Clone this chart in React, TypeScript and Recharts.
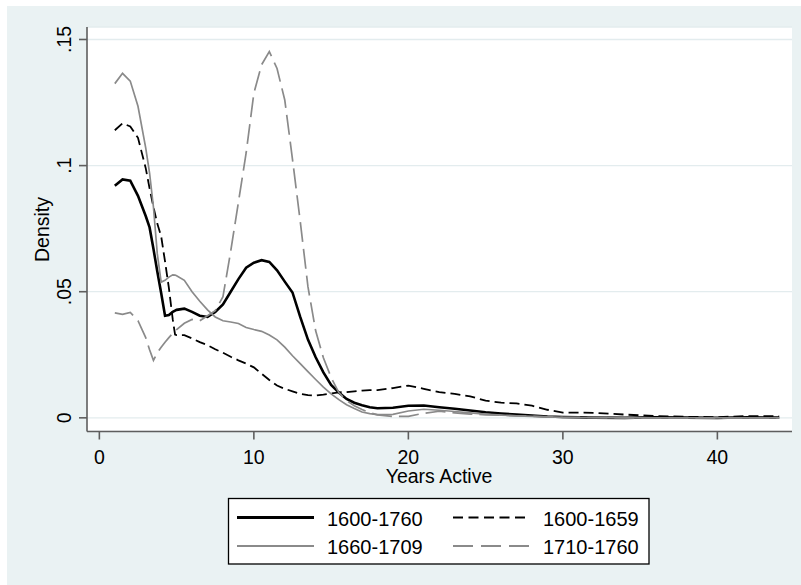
import React from 'react';
import { LineChart, Line, XAxis, YAxis, CartesianGrid } from 'recharts';

const years = [1, 1.5, 2, 2.5, 3, 3.25, 3.5, 3.75, 4, 4.25, 4.5, 4.75, 4.9, 5, 5.5, 6, 6.5, 7, 7.5, 8, 8.5, 9, 9.5, 10, 10.5, 11, 11.5, 12, 12.5, 13, 13.5, 14, 14.5, 15, 15.5, 16, 16.5, 17, 17.5, 18, 19, 20, 21, 22, 23, 24, 25, 26, 27, 28, 29, 30, 32, 34, 36, 38, 40, 42, 44];

const s1600_1760 = [0.092, 0.0945, 0.094, 0.088, 0.080, 0.0755, 0.067, 0.058, 0.0495, 0.0405, 0.0408, 0.042, 0.0425, 0.0428, 0.0433, 0.042, 0.0405, 0.040, 0.042, 0.045, 0.050, 0.055, 0.0595, 0.0615, 0.0625, 0.0618, 0.0585, 0.054, 0.0497, 0.040, 0.031, 0.024, 0.018, 0.013, 0.010, 0.0075, 0.006, 0.005, 0.0042, 0.0038, 0.004, 0.0048, 0.0049, 0.0042, 0.0036, 0.0029, 0.0022, 0.0017, 0.0013, 0.0009, 0.0005, 0.0003, 0.0001, 0, 0.0002, 0.0001, 0, 0.0002, 0.0001];

const s1600_1659 = [0.114, 0.1168, 0.1155, 0.111, 0.099, 0.091, 0.0836, 0.077, 0.072, 0.062, 0.0515, 0.039, 0.033, 0.0328, 0.0328, 0.0315, 0.030, 0.0288, 0.0272, 0.0258, 0.0242, 0.0228, 0.0215, 0.0200, 0.0175, 0.015, 0.0128, 0.0115, 0.0105, 0.0095, 0.009, 0.0088, 0.0092, 0.0097, 0.0101, 0.0102, 0.0105, 0.0108, 0.011, 0.011, 0.0118, 0.0128, 0.0115, 0.0102, 0.0095, 0.0085, 0.0068, 0.006, 0.0057, 0.0048, 0.0032, 0.0021, 0.002, 0.0013, 0.0007, 0.0004, 0.0003, 0.0007, 0.0006];

const s1660_1709 = [0.1325, 0.1366, 0.1335, 0.1235, 0.107, 0.097, 0.0836, 0.065, 0.0538, 0.0545, 0.0558, 0.0567, 0.0566, 0.0563, 0.0545, 0.050, 0.0462, 0.0428, 0.040, 0.0385, 0.038, 0.0374, 0.0358, 0.035, 0.0343, 0.0328, 0.0309, 0.028, 0.0246, 0.0215, 0.0183, 0.0152, 0.0122, 0.0095, 0.0072, 0.0052, 0.0037, 0.0023, 0.0017, 0.0013, 0.0014, 0.0027, 0.0034, 0.003, 0.0025, 0.002, 0.0015, 0.0011, 0.0008, 0.0006, 0.0004, 0.0002, 0.0001, 0, 0, 0, 0, 0, 0];

const s1710_1760 = [0.0416, 0.041, 0.0418, 0.0385, 0.0318, 0.027, 0.0228, 0.0258, 0.028, 0.030, 0.0318, 0.0335, 0.0343, 0.035, 0.0375, 0.039, 0.0385, 0.0405, 0.0425, 0.048, 0.066, 0.0855, 0.105, 0.1287, 0.140, 0.1452, 0.1385, 0.126, 0.1025, 0.078, 0.052, 0.0345, 0.0238, 0.016, 0.010, 0.0068, 0.0048, 0.0033, 0.002, 0.0012, 0.0005, 0.0006, 0.0018, 0.0026, 0.002, 0.0015, 0.0012, 0.001, 0.0008, 0.0006, 0.0004, 0.0002, 0.0001, 0, 0, 0, 0, 0, 0];

const xTicks = [0, 10, 20, 30, 40];
const yTicks = [0, 0.05, 0.1, 0.15];
const yTickLabels = ['0', '.05', '.1', '.15'];
const seriesNames = ['1600-1760', '1600-1659', '1660-1709', '1710-1760'];

const data = years.map((x, i) => ({
  x,
  a: s1600_1760[i],
  b: s1600_1659[i],
  c: s1660_1709[i],
  d: s1710_1760[i],
}));

const FONT = '"Liberation Sans", Arial, sans-serif';
const BG = '#EAF2F3';
const GRAY = '#8a8a8a';
const AXIS = '#5e5e5e';

const YTick = (props: any) => {
  const { y, payload } = props;
  const idx = yTicks.indexOf(payload.value);
  return (
    <text
      transform={`translate(71, ${y}) rotate(-90)`}
      textAnchor="middle"
      fontSize={19.5}
      fontFamily={FONT}
      fill="#000"
    >
      {idx >= 0 ? yTickLabels[idx] : String(payload.value)}
    </text>
  );
};

const XTick = (props: any) => {
  const { x, payload } = props;
  return (
    <text x={x} y={464} textAnchor="middle" fontSize={19.5} fontFamily={FONT} fill="#000">
      {payload.value}
    </text>
  );
};

export default function App() {
  return (
    <div style={{ position: 'absolute', left: 0, top: 0, width: 801, height: 585, background: '#fff', overflow: 'hidden' }}>
      <div style={{ position: 'absolute', left: 7, top: 6, width: 794, height: 579, background: BG }} />
      <div style={{ position: 'absolute', left: 0, top: 0 }}>
        <LineChart
          width={801}
          height={585}
          data={data}
          margin={{ top: 27, right: 9, bottom: 93.5, left: 0 }}
        >
          <CartesianGrid vertical={false} horizontal={true} fill="#ffffff" stroke="#E3ECEE" strokeWidth={1.3} />
          <XAxis
            dataKey="x"
            type="number"
            domain={[-0.8, 44.83]}
            ticks={xTicks}
            allowDataOverflow
            height={60}
            tick={(p: any) => <XTick {...p} />}
            tickSize={8}
            axisLine={{ stroke: AXIS, strokeWidth: 1.6 }}
            tickLine={{ stroke: AXIS, strokeWidth: 1.6 }}
          />
          <YAxis
            type="number"
            domain={[-0.00542, 0.15495]}
            ticks={yTicks}
            allowDataOverflow
            width={87}
            tick={(p: any) => <YTick {...p} />}
            tickSize={8}
            axisLine={{ stroke: AXIS, strokeWidth: 1.6 }}
            tickLine={{ stroke: AXIS, strokeWidth: 1.6 }}
          />
          <Line type="linear" dataKey="a" name={seriesNames[0]} stroke="#000" strokeWidth={2.6} dot={false} isAnimationActive={false} />
          <Line type="linear" dataKey="b" name={seriesNames[1]} stroke="#000" strokeWidth={1.8} strokeDasharray="10 5" dot={false} isAnimationActive={false} />
          <Line type="linear" dataKey="c" name={seriesNames[2]} stroke={GRAY} strokeWidth={1.7} dot={false} isAnimationActive={false} />
          <Line type="linear" dataKey="d" name={seriesNames[3]} stroke={GRAY} strokeWidth={1.7} strokeDasharray="20 7" dot={false} isAnimationActive={false} />
        </LineChart>
      </div>
      <svg width={801} height={585} style={{ position: 'absolute', left: 0, top: 0, pointerEvents: 'none' }}>
        <text transform="translate(48.5, 229.5) rotate(-90)" textAnchor="middle" fontSize={19.5} fontFamily={FONT} fill="#000">Density</text>
        <text x={439} y={482.5} textAnchor="middle" fontSize={19.5} fontFamily={FONT} fill="#000">Years Active</text>
        <rect x={228.5} y={498.5} width={420.5} height={65.5} fill="#fff" stroke="#000" strokeWidth={1.3} />
        <line x1={237} y1={517.5} x2={314} y2={517.5} stroke="#000" strokeWidth={2.8} />
        <text x={327} y={526} fontSize={20} fontFamily={FONT} fill="#000">{seriesNames[0]}</text>
        <line x1={453} y1={517.5} x2={530} y2={517.5} stroke="#000" strokeWidth={1.8} strokeDasharray="10 5.5" />
        <text x={543} y={526} fontSize={20} fontFamily={FONT} fill="#000">{seriesNames[1]}</text>
        <line x1={237} y1={546} x2={314} y2={546} stroke={GRAY} strokeWidth={1.8} />
        <text x={327} y={554} fontSize={20} fontFamily={FONT} fill="#000">{seriesNames[2]}</text>
        <line x1={453} y1={546} x2={530} y2={546} stroke={GRAY} strokeWidth={1.8} strokeDasharray="20 8" />
        <text x={543} y={554} fontSize={20} fontFamily={FONT} fill="#000">{seriesNames[3]}</text>
      </svg>
    </div>
  );
}
